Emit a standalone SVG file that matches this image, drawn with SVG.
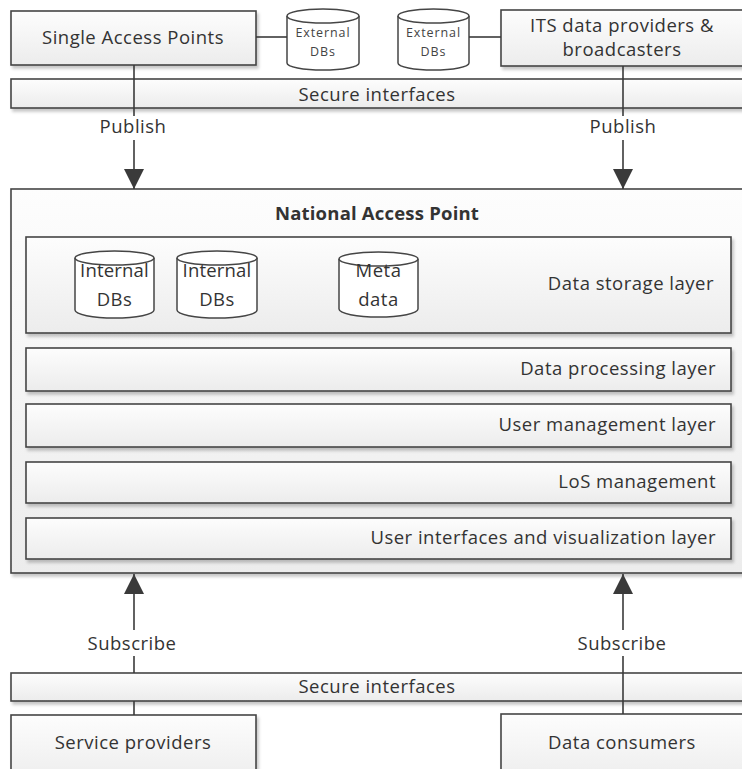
<svg xmlns="http://www.w3.org/2000/svg" width="742" height="769" viewBox="0 0 742 769">
<defs>
<linearGradient id="g" x1="0" y1="0" x2="0" y2="1"><stop offset="0" stop-color="#fdfdfd"/><stop offset="1" stop-color="#ececec"/></linearGradient>
<filter id="sh" x="-5%" y="-5%" width="110%" height="130%"><feDropShadow dx="2" dy="3" stdDeviation="1.5" flood-color="#000" flood-opacity="0.22"/></filter>
<marker id="ar" markerUnits="userSpaceOnUse" markerWidth="20" markerHeight="20" viewBox="0 0 18 18" refX="18" refY="9" orient="auto"><path d="M0,0 L18,9 L0,18 Z" fill="#3a3a3a"/></marker>
<style>
.box{fill:url(#g);stroke:#454545;stroke-width:1.6;filter:url(#sh)}
.cyl{fill:#fff;stroke:#454545;stroke-width:1.5}
.t{font-family:"Open Sans","Liberation Sans",sans-serif;font-size:18.5px;fill:#333;letter-spacing:0.5px}
.c{text-anchor:middle}
.r{text-anchor:end}
.b{font-weight:bold;letter-spacing:0.2px}
.s{font-size:12.5px;letter-spacing:0.9px;fill:#444}
.ln{stroke:#3a3a3a;stroke-width:1.6;fill:none}
</style>
</defs>
<rect width="742" height="769" fill="#fff"/>

<g id="single-access-points"><rect class="box" x="11" y="11" width="245" height="54"/><text class="t c" x="133" y="44">Single Access Points</text></g>
<g id="its-providers"><rect class="box" x="501" y="10" width="250" height="56"/><text class="t c" x="622" y="32">ITS data providers &amp;</text><text class="t c" x="622" y="56">broadcasters</text></g>
<g id="external-db-1"><path class="cyl" d="M287,16 L287,63 A36,7 0 0 0 359,63 L359,16"/><ellipse class="cyl" cx="323" cy="16" rx="36" ry="7"/><text class="t c s" x="323" y="37">External</text><text class="t c s" x="323" y="56">DBs</text></g>
<g id="external-db-2"><path class="cyl" d="M398,16 L398,63 A35.5,7 0 0 0 469,63 L469,16"/><ellipse class="cyl" cx="433.5" cy="16" rx="35.5" ry="7"/><text class="t c s" x="433.5" y="37">External</text><text class="t c s" x="433.5" y="56">DBs</text></g>
<g id="secure-top"><rect class="box" x="11" y="79" width="740" height="29"/><text class="t c" x="377" y="101">Secure interfaces</text></g>

<g id="national-access-point"><rect class="box" x="11" y="189" width="732" height="384"/><text class="t c b" x="377" y="220">National Access Point</text></g>
<g id="data-storage-layer"><rect class="box" x="26" y="237" width="705" height="96"/><text class="t r" x="714" y="290">Data storage layer</text></g>
<g id="internal-db-1"><path class="cyl" d="M75,258 L75,310 A39.5,8 0 0 0 154,310 L154,258"/><ellipse class="cyl" cx="114.5" cy="258" rx="39.5" ry="7"/><text class="t c" x="114.5" y="277" style="letter-spacing:0.2px">Internal</text><text class="t c" x="114.5" y="306">DBs</text></g>
<g id="internal-db-2"><path class="cyl" d="M177,258 L177,310 A40,8 0 0 0 257,310 L257,258"/><ellipse class="cyl" cx="217" cy="258" rx="40" ry="7"/><text class="t c" x="217" y="277" style="letter-spacing:0.2px">Internal</text><text class="t c" x="217" y="306">DBs</text></g>
<g id="meta-data"><path class="cyl" d="M339,259 L339,309 A39.5,8 0 0 0 418,309 L418,259"/><ellipse class="cyl" cx="378.5" cy="259" rx="39.5" ry="7"/><text class="t c" x="378.5" y="277">Meta</text><text class="t c" x="378.5" y="306">data</text></g>
<g id="data-processing-layer"><rect class="box" x="26" y="348" width="705" height="43"/><text class="t r" x="716" y="375">Data processing layer</text></g>
<g id="user-management-layer"><rect class="box" x="26" y="404" width="705" height="43"/><text class="t r" x="716" y="431">User management layer</text></g>
<g id="los-management"><rect class="box" x="26" y="462" width="705" height="41"/><text class="t r" x="716" y="488">LoS management</text></g>
<g id="ui-layer"><rect class="box" x="26" y="518" width="705" height="41"/><text class="t r" x="716" y="544">User interfaces and visualization layer</text></g>

<g id="secure-bottom"><rect class="box" x="11" y="673" width="740" height="28"/><text class="t c" x="377" y="693">Secure interfaces</text></g>
<g id="service-providers"><rect class="box" x="11" y="715" width="245" height="70"/><text class="t c" x="133" y="749">Service providers</text></g>
<g id="data-consumers"><rect class="box" x="501" y="714" width="250" height="70"/><text class="t c" x="622" y="749">Data consumers</text></g>

<g id="connectors">
<line class="ln" x1="256" y1="37" x2="287" y2="37"/>
<line class="ln" x1="469" y1="37" x2="501" y2="37"/>
<line class="ln" x1="134" y1="65" x2="134" y2="116"/>
<line class="ln" x1="134" y1="140" x2="134" y2="189" marker-end="url(#ar)"/>
<line class="ln" x1="623" y1="66" x2="623" y2="116"/>
<line class="ln" x1="623" y1="140" x2="623" y2="189" marker-end="url(#ar)"/>
<line class="ln" x1="134" y1="630" x2="134" y2="574" marker-end="url(#ar)"/>
<line class="ln" x1="134" y1="656" x2="134" y2="673"/>
<line class="ln" x1="134" y1="701" x2="134" y2="715"/>
<line class="ln" x1="623" y1="630" x2="623" y2="574" marker-end="url(#ar)"/>
<line class="ln" x1="623" y1="656" x2="623" y2="714"/>
<text class="t c" x="133" y="133">Publish</text>
<text class="t c" x="623" y="133">Publish</text>
<text class="t c" x="132" y="650">Subscribe</text>
<text class="t c" x="622" y="650">Subscribe</text>
</g>
</svg>
